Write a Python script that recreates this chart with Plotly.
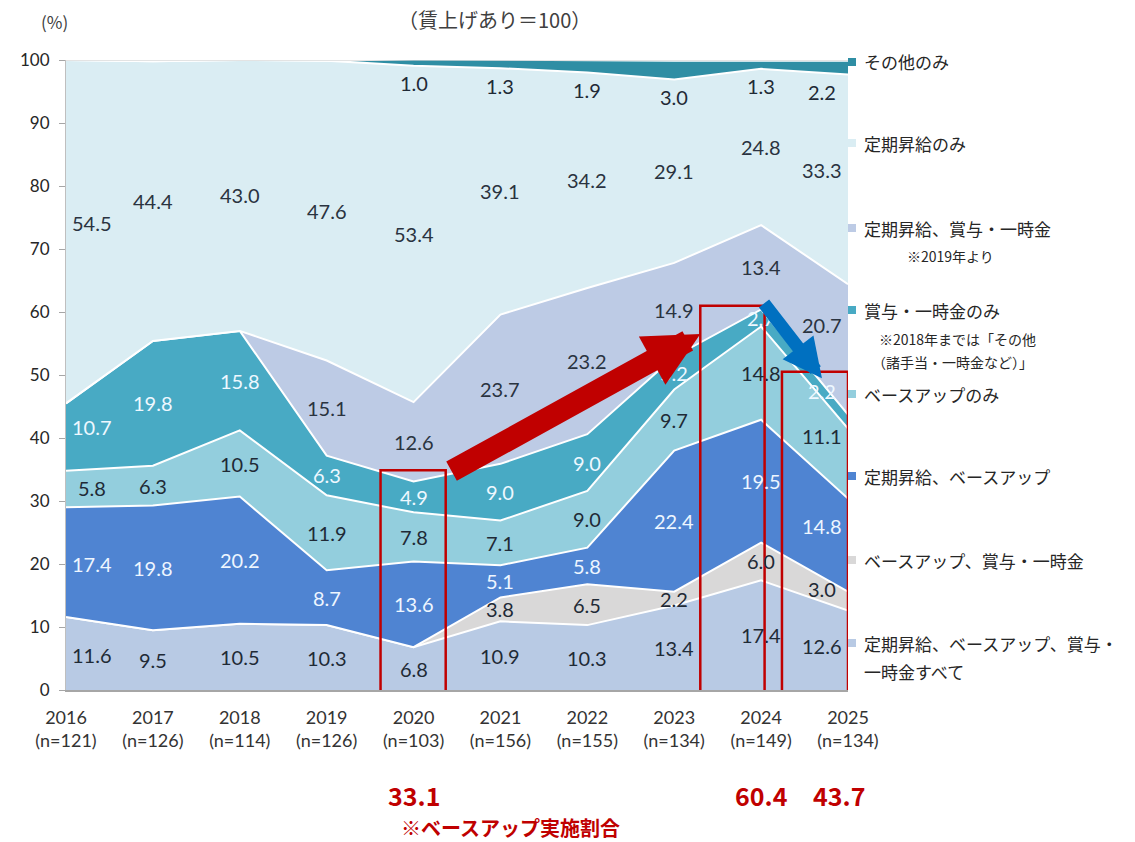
import numpy as np
import plotly.graph_objects as go

# ---------------- data ----------------
years = [2016, 2017, 2018, 2019, 2020, 2021, 2022, 2023, 2024, 2025]
n_counts = [121, 126, 114, 126, 103, 156, 155, 134, 149, 134]

name_all = "定期昇給、ベースアップ、賞与・一時金すべて"
name_base_bonus = "ベースアップ、賞与・一時金"
name_teiki_base = "定期昇給、ベースアップ"
name_base_only = "ベースアップのみ"
name_bonus_only = "賞与・一時金のみ"
name_teiki_bonus = "定期昇給、賞与・一時金"
name_teiki_only = "定期昇給のみ"
name_other = "その他のみ"

all_three = [11.6, 9.5, 10.5, 10.3, 6.8, 10.9, 10.3, 13.4, 17.4, 12.6]
base_bonus = [0, 0, 0, 0, 0, 3.8, 6.5, 2.2, 6.0, 3.0]
teiki_base = [17.4, 19.8, 20.2, 8.7, 13.6, 5.1, 5.8, 22.4, 19.5, 14.8]
base_only = [5.8, 6.3, 10.5, 11.9, 7.8, 7.1, 9.0, 9.7, 14.8, 11.1]
bonus_only = [10.7, 19.8, 15.8, 6.3, 4.9, 9.0, 9.0, 5.2, 2.7, 2.2]
teiki_bonus = [0, 0, 0, 15.1, 12.6, 23.7, 23.2, 14.9, 13.4, 20.7]
teiki_only = [54.5, 44.4, 43.0, 47.6, 53.4, 39.1, 34.2, 29.1, 24.8, 33.3]
other_only = [0, 0, 0, 0, 1.0, 1.3, 1.9, 3.0, 1.3, 2.2]

rate_years = [2020, 2024, 2025]
base_up_rate = ["33.1", "60.4", "43.7"]

# ---------------- styles ----------------
series = [
    (name_all, all_three, "#b8cae4", "#1f2a36"),
    (name_base_bonus, base_bonus, "#d9d8d8", "#1f2a36"),
    (name_teiki_base, teiki_base, "#4f84d2", "#eef6ff"),
    (name_base_only, base_only, "#93cedd", "#1f2a36"),
    (name_bonus_only, bonus_only, "#48aac4", "#eef8ff"),
    (name_teiki_bonus, teiki_bonus, "#bdcbe5", "#2a3340"),
    (name_teiki_only, teiki_only, "#daedf3", "#2a3340"),
    (name_other, other_only, "#2f8ea4", "#1f2a36"),
]

L, R, T, B = 66, 848, 60, 690
W, H = 1135, 842


def px(x):
    return (x - L) / (R - L)


def py(y):
    return (B - y) / (B - T)


fig = go.Figure()
for name, vals, col, _ in series:
    fig.add_trace(go.Scatter(
        x=years, y=vals, name=name, mode="lines", stackgroup="one",
        line=dict(color="white", width=2), fillcolor=col,
        showlegend=False, hoverinfo="skip"))

# ---------------- data labels ----------------
yrs = np.array(years, dtype=float)
cum = np.zeros(len(years))
label_font = "Lato, 'Open Sans', sans-serif"
annotations = []
for idx, (name, vals, col, tcol) in enumerate(series):
    v = np.array(vals, dtype=float)
    lower = cum.copy()
    upper = cum + v
    for i, yr in enumerate(years):
        if v[i] <= 0:
            continue
        lx = yr + (0.3 if i == 0 else (-0.3 if i == len(years) - 1 else 0))
        lo = np.interp(lx, yrs, lower)
        hi = np.interp(lx, yrs, upper)
        if name == name_other:
            ly = lower[i] - 2.8
        else:
            ly = (lo + hi) / 2
        annotations.append(dict(
            x=lx, y=ly, xref="x", yref="y", text=f"{v[i]:.1f}", showarrow=False,
            font=dict(family=label_font, size=20, color=tcol),
            xanchor="center", yanchor="middle"))
    cum = upper

# ---------------- legend (custom, right side) ----------------
legend_items = [
    (name_other, "#2f8ea4", 62),
    (name_teiki_only, "#daedf3", 143),
    (name_teiki_bonus, "#bdcbe5", 228),
    (name_bonus_only, "#48aac4", 310),
    (name_base_only, "#93cedd", 394),
    (name_teiki_base, "#4f84d2", 476),
    (name_base_bonus, "#d9d8d8", 560),
    ("定期昇給、ベースアップ、賞与・", "#b8cae4", 643),
]
jp_font = "'Noto Sans CJK JP', sans-serif"
shapes = []
for txt, col, ypx in legend_items:
    shapes.append(dict(type="rect", xref="paper", yref="paper",
                       x0=px(848), x1=px(856), y0=py(ypx + 4), y1=py(ypx - 4),
                       fillcolor=col, line=dict(width=0)))
    annotations.append(dict(x=px(862), y=py(ypx), xref="paper", yref="paper",
                            text=txt, showarrow=False, xanchor="left", yanchor="middle",
                            font=dict(family=jp_font, size=17, color="#262626")))
notes = [
    ("一時金すべて", 862, 671, 17),
    ("※2019年より", 905, 256, 14),
    ("※2018年までは「その他", 877, 339, 14),
    ("（諸手当・一時金など）」", 870, 362, 14),
]
for txt, xpx, ypx, sz in notes:
    annotations.append(dict(x=px(xpx), y=py(ypx), xref="paper", yref="paper",
                            text=txt, showarrow=False, xanchor="left", yanchor="middle",
                            font=dict(family=jp_font, size=sz, color="#262626")))

# ---------------- titles ----------------
annotations.append(dict(x=px(495), y=py(19), xref="paper", yref="paper",
                        text="（賃上げあり＝100）", showarrow=False,
                        xanchor="center", yanchor="middle",
                        font=dict(family=jp_font, size=20, color="#404040")))
annotations.append(dict(x=px(54), y=py(22), xref="paper", yref="paper",
                        text="(%)", showarrow=False, xanchor="center", yanchor="middle",
                        font=dict(family=jp_font, size=17, color="#404040")))

# ---------------- red highlight boxes ----------------
boxes = [(2019.62, 2020.37, -0.8, 34.9), (2023.30, 2024.04, -0.8, 61.0), (2024.24, 2025.0, -0.8, 50.5)]
for x0, x1, y0, y1 in boxes:
    shapes.append(dict(type="rect", xref="x", yref="y", x0=x0, x1=x1, y0=y0, y1=y1,
                       line=dict(color="#c00000", width=2.5), fillcolor="rgba(0,0,0,0)",
                       layer="above"))

# top border line
shapes.append(dict(type="line", xref="x", yref="y", x0=2016, x1=2025, y0=100, y1=100,
                   line=dict(color="#c8c8c8", width=1), layer="above"))

# rate values below axis
for yr, txt in zip(rate_years, base_up_rate):
    annotations.append(dict(x=yr + (-0.1 if yr == 2025 else 0), y=py(795), xref="x", yref="paper",
                            text=f"<b>{txt}</b>", showarrow=False,
                            xanchor="center", yanchor="middle",
                            font=dict(family=jp_font, size=25, color="#c00000")))
annotations.append(dict(x=px(510), y=py(827), xref="paper", yref="paper",
                        text="<b>※ベースアップ実施割合</b>", showarrow=False,
                        xanchor="center", yanchor="middle",
                        font=dict(family=jp_font, size=20, color="#c00000")))

# arrows
annotations.append(dict(x=2023.30, y=56.5, ax=2020.42, ay=34.6, xref="x", yref="y",
                        axref="x", ayref="y", text="", showarrow=True,
                        arrowhead=2, arrowsize=0.5, arrowwidth=22, arrowcolor="#c00000"))
annotations.append(dict(x=2024.70, y=49.5, ax=2024.02, ay=61.6, xref="x", yref="y",
                        axref="x", ayref="y", text="", showarrow=True,
                        arrowhead=2, arrowsize=0.6, arrowwidth=13, arrowcolor="#0070c0"))

ticktext = [f"{y}<br>(n={n})" for y, n in zip(years, n_counts)]

fig.update_layout(
    width=W, height=H,
    margin=dict(l=L, r=W - R, t=T, b=H - B, pad=0),
    paper_bgcolor="white", plot_bgcolor="white",
    shapes=shapes, annotations=annotations,
    xaxis=dict(range=[2016, 2025], tickvals=years, ticktext=ticktext,
               showgrid=False, zeroline=False, showline=True, linecolor="#a6a6a6",
               linewidth=2, ticks="", ticklabelstandoff=10,
               tickfont=dict(family=label_font, size=18, color="#333333")),
    yaxis=dict(range=[0, 100], tickvals=list(range(0, 101, 10)),
               showgrid=False, zeroline=False, showline=True, linecolor="#bfbfbf",
               linewidth=1, ticks="outside", ticklen=6, tickcolor="#a6a6a6",
               ticklabelstandoff=6,
               tickfont=dict(family=label_font, size=17, color="#262626")),
)

fig.write_html("out.html", config={"displayModeBar": False},
               post_script="document.body.style.margin='0';")
